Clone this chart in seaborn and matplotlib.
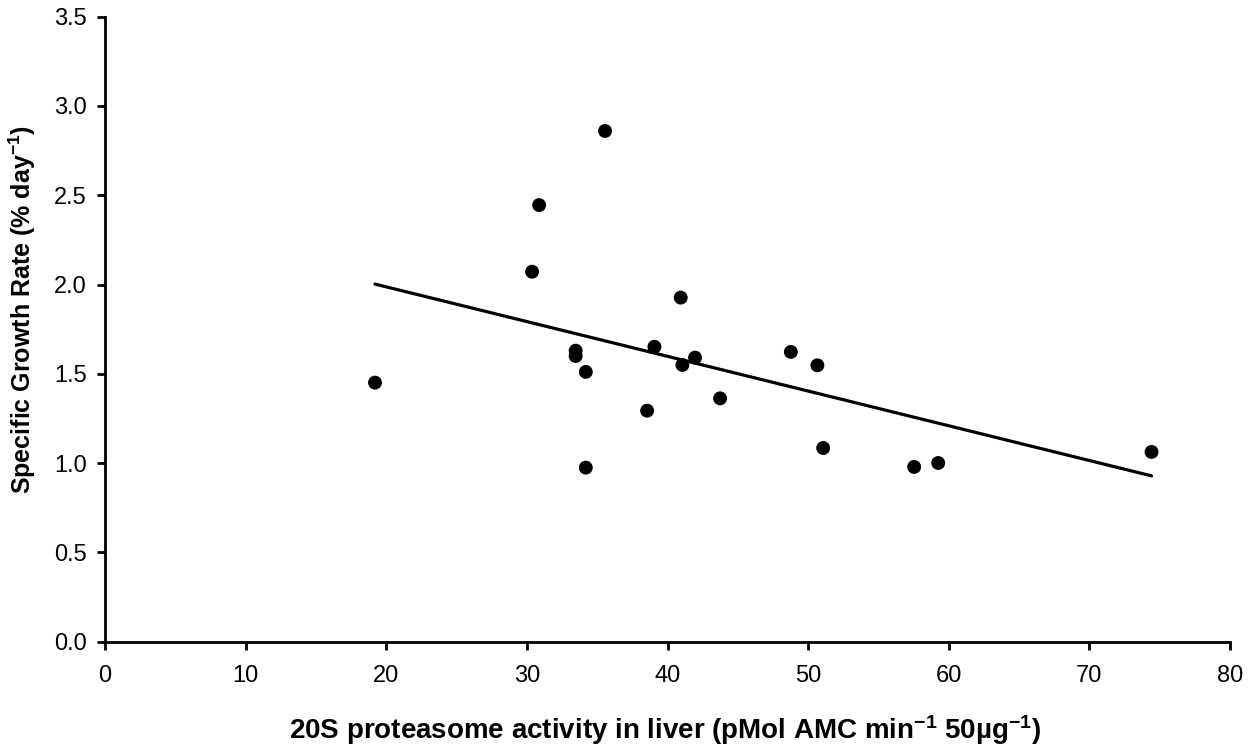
import numpy as np
import pandas as pd
import matplotlib
matplotlib.use("Agg")
import matplotlib.pyplot as plt
import seaborn as sns

# Data
activity = [19.2, 30.37, 30.87, 35.56, 33.47, 33.47, 34.19, 34.19, 38.55, 39.07,
            40.94, 41.06, 41.96, 43.74, 48.77, 50.66, 51.07, 57.54, 59.25, 74.42]
growth = [1.451, 2.072, 2.445, 2.86, 1.630, 1.600, 1.511, 0.975, 1.294, 1.652,
          1.927, 1.550, 1.591, 1.363, 1.623, 1.548, 1.085, 0.979, 1.001, 1.063]
x_ticks = [0, 10, 20, 30, 40, 50, 60, 70, 80]
y_ticks = [0.0, 0.5, 1.0, 1.5, 2.0, 2.5, 3.0, 3.5]

df = pd.DataFrame({"activity": activity, "growth": growth})

sns.set_theme(style="ticks")
plt.rcParams["font.family"] = ["Liberation Sans", "DejaVu Sans"]
plt.rcParams["mathtext.fontset"] = "custom"
plt.rcParams["mathtext.rm"] = "Liberation Sans:bold"
plt.rcParams["mathtext.bf"] = "Liberation Sans:bold"
plt.rcParams["mathtext.default"] = "bf"
plt.rcParams["text.color"] = "black"
plt.rcParams["axes.labelcolor"] = "black"

fig = plt.figure(figsize=(12.5, 7.44), dpi=100)
ax = fig.add_axes([0.084, 0.1374, 0.9, 0.8402])

sns.regplot(data=df, x="activity", y="growth", ax=ax, ci=None,
            scatter_kws=dict(s=100, color="black", edgecolor="none", alpha=1),
            line_kws=dict(color="black", linewidth=2.3))

ax.set_xlim(0, 80)
ax.set_ylim(0, 3.5)
ax.set_xticks(x_ticks)
ax.set_yticks(y_ticks)
ax.set_xticklabels([str(t) for t in x_ticks])
ax.set_yticklabels([f"{t:.1f}" for t in y_ticks])

for side in ["top", "right"]:
    ax.spines[side].set_visible(False)
for side in ["left", "bottom"]:
    ax.spines[side].set_linewidth(2)
    ax.spines[side].set_color("black")

ax.tick_params(axis="both", direction="out", length=6, width=2, colors="black",
               labelcolor="black", labelsize=17)
ax.tick_params(axis="x", pad=11)
ax.tick_params(axis="y", pad=7)

ax.set_xlabel(r"20S proteasome activity in liver (pMol AMC min$^{-1}$ 50µg$^{-1}$)",
              fontsize=20, fontweight="bold")
ax.set_ylabel(r"Specific Growth Rate (% day$^{-1}$)",
              fontsize=18, fontweight="bold")
ax.xaxis.set_label_coords(0.498, -0.1135)
ax.yaxis.set_label_coords(-0.0596, 0.532)

fig.savefig("out.png", dpi=100)
